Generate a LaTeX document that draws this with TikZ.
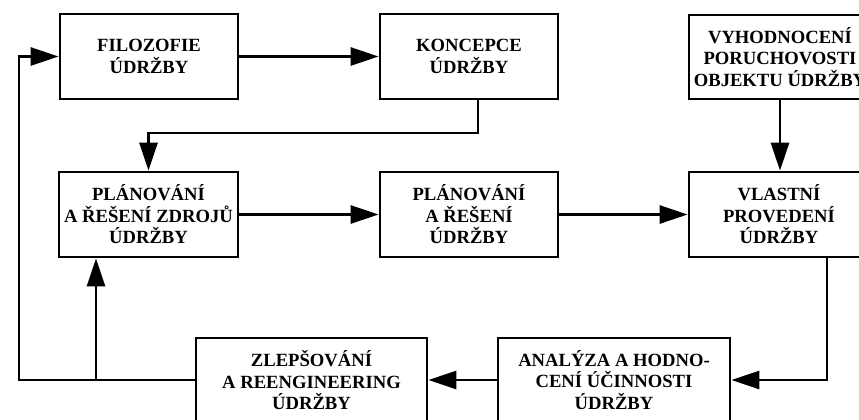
\documentclass[tikz,border=0pt]{standalone}
\usepackage{fontspec}
\setmainfont{Liberation Serif}
\usetikzlibrary{arrows.meta}
\begin{document}
\begin{tikzpicture}[x=1bp,y=-1bp,
  box/.style={draw=black,line width=2.8bp,fill=white,align=center,
    inner sep=1bp,font=\bfseries\fontsize{18.7}{21.5}\selectfont},
  arr/.style={line width=2.8bp,-{Triangle[length=28bp,width=18bp]}}]
\useasboundingbox (0,0) rectangle (859,419);
\clip (0,0) rectangle (859,419);
\fill[white] (0,0) rectangle (859,419);

% top row
\node[box,minimum width=178bp,minimum height=85bp] (fil) at (149,56.5) {FILOZOFIE\\ÚDRŽBY};
\node[box,minimum width=178bp,minimum height=85bp] (kon) at (469,56.5) {KONCEPCE\\ÚDRŽBY};
\node[box,minimum width=182bp,minimum height=84bp] (vyh) at (780,57) {VYHODNOCENÍ\\PORUCHOVOSTI\\OBJEKTU ÚDRŽBY};

% middle row
\node[box,minimum width=179bp,minimum height=85bp] (zdr) at (148.5,214.5) {PLÁNOVÁNÍ\\A ŘEŠENÍ ZDROJŮ\\ÚDRŽBY};
\node[box,minimum width=178bp,minimum height=85bp] (pla) at (469,214.5) {PLÁNOVÁNÍ\\A ŘEŠENÍ\\ÚDRŽBY};
\node[box,minimum width=180bp,minimum height=85bp] (vla) at (779,214.5) {VLASTNÍ\\PROVEDENÍ\\ÚDRŽBY};

% bottom row
\node[box,minimum width=232bp,minimum height=84bp] (ana) at (614,380) {ANALÝZA A HODNO-\\CENÍ ÚČINNOSTI\\ÚDRŽBY};
\node[box,minimum width=231bp,minimum height=84bp] (zle) at (311.5,380) {ZLEPŠOVÁNÍ\\A REENGINEERING\\ÚDRŽBY};

% turning points of the connectors
\coordinate (kx) at (478,133);
\coordinate (vx) at (827,0);
\coordinate (lx) at (19,0);
\coordinate (bx) at (96,0);

% connectors
\draw[arr] (fil.east) -- (kon.west);
\draw[arr] (kon.south -| kx) -- (kx) -| (zdr.north);
\draw[arr] (vyh.south) -- (vyh.south |- vla.north);
\draw[arr] (zdr.east) -- (pla.west);
\draw[arr] (pla.east) -- (vla.west);
\draw[arr] (vla.south -| vx) |- (ana.east);
\draw[arr] (ana.west) -- (zle.east);
\draw[arr] (zle.west) -| (lx |- fil.west) -- (fil.west);
\draw[arr] (bx |- zle.west) -- (bx |- zdr.south);
\end{tikzpicture}
\end{document}
